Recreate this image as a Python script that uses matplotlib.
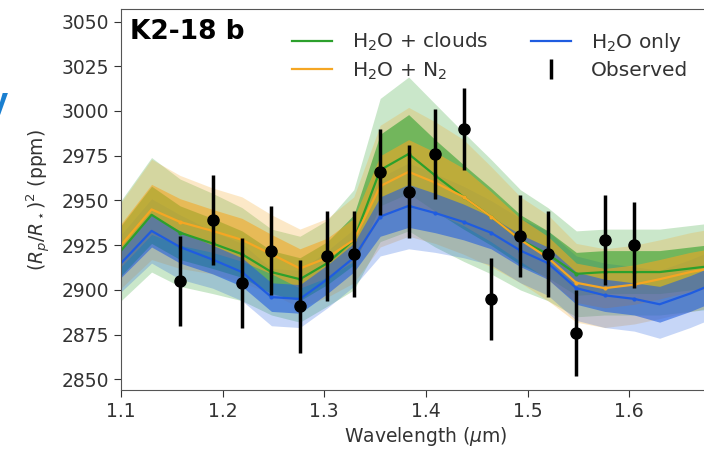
import numpy as np
import matplotlib
matplotlib.use("Agg")
import matplotlib.pyplot as plt

# model wavelength grid (um)
wl_model = [1.100, 1.130, 1.158, 1.190, 1.219, 1.248, 1.276, 1.303, 1.329, 1.355, 1.383,
            1.409, 1.437, 1.464, 1.493, 1.520, 1.548, 1.576, 1.605, 1.630, 1.660, 1.690]

# H2O + clouds
clouds_med = [2922, 2942, 2932, 2926, 2920, 2910, 2906, 2915, 2928, 2967, 2976,
              2964, 2952, 2941, 2928, 2920, 2909, 2910, 2910, 2910, 2912, 2914]
clouds_s1 = [14, 16, 15, 14, 13, 12, 12, 12, 14, 20, 22, 20, 18, 16, 14, 13, 12, 12, 12, 12, 12, 12]
clouds_s2 = [28, 32, 30, 28, 26, 24, 24, 24, 28, 40, 43, 40, 36, 32, 28, 26, 24, 24, 24, 24, 24, 24]

# H2O + N2
n2_med = [2925, 2945, 2938, 2933, 2928, 2920, 2912, 2918, 2928, 2958, 2966,
          2960, 2952, 2941, 2928, 2918, 2904, 2901, 2903, 2906, 2910, 2913]
n2_s1 = [12, 14, 13, 12, 12, 11, 11, 11, 12, 17, 18, 17, 16, 14, 12, 12, 11, 11, 11, 11, 11, 11]
n2_s2 = [24, 28, 26, 24, 24, 22, 22, 22, 24, 34, 36, 34, 32, 28, 24, 24, 22, 22, 22, 22, 22, 22]

# H2O only
h2o_med = [2915, 2933, 2924, 2917, 2910, 2896, 2895, 2906, 2918, 2941, 2947,
           2943, 2938, 2932, 2922, 2915, 2901, 2897, 2895, 2892, 2898, 2905]
h2o_s1 = [8, 9, 9, 8, 8, 8, 8, 8, 8, 11, 12, 11, 10, 9, 9, 9, 9, 9, 9, 10, 10, 10]
h2o_s2 = [16, 18, 18, 16, 16, 16, 16, 16, 16, 22, 24, 22, 20, 18, 18, 18, 18, 18, 18, 19, 19, 19]

# observed transit depths
wl_obs = [1.158, 1.190, 1.219, 1.248, 1.276, 1.303, 1.329, 1.355, 1.383,
          1.409, 1.437, 1.464, 1.493, 1.520, 1.548, 1.576, 1.605]
depth_obs = [2905, 2939, 2904, 2922, 2891, 2919, 2920, 2966, 2955,
             2976, 2990, 2895, 2930, 2920, 2876, 2928, 2925]
err_obs = [25, 25, 25, 25, 26, 25, 24, 24, 26, 25, 23, 23, 23, 24, 24, 25, 24]

wl_model = np.array(wl_model)
models = [
    (clouds_med, clouds_s1, clouds_s2, '#2ca02c', r'H$_2$O + clouds'),
    (n2_med, n2_s1, n2_s2, '#f5a623', r'H$_2$O + N$_2$'),
    (h2o_med, h2o_s1, h2o_s2, '#1f5ce0', r'H$_2$O only'),
]

fig = plt.figure(figsize=(7.04, 4.49), dpi=100)
ax = fig.add_axes([0.172, 0.131, 0.866, 0.849])

for med, s1, s2, col, lab in models:
    med = np.array(med); s2 = np.array(s2)
    ax.fill_between(wl_model, med - s2, med + s2, color=col, alpha=0.25, lw=0)
for med, s1, s2, col, lab in models:
    med = np.array(med); s1 = np.array(s1)
    ax.fill_between(wl_model, med - s1, med + s1, color=col, alpha=0.58, lw=0)

for med, s1, s2, col, lab in models:
    ax.plot(wl_model, med, color=col, lw=1.6, label=lab)
    on_obs = np.interp(wl_obs, wl_model, med)
    ax.plot(wl_obs, on_obs, 'o', color=col, ms=3, mec='none')

ax.errorbar(wl_obs, depth_obs, yerr=err_obs, fmt='none', ecolor='black',
            elinewidth=2.5, capsize=0, label='Observed', zorder=5)
ax.plot(wl_obs, depth_obs, 'o', color='black', ms=8, zorder=6)

ax.set_xlim(1.1, 1.7)
ax.set_ylim(2844, 3057)
ax.set_xticks([1.1, 1.2, 1.3, 1.4, 1.5, 1.6])
ax.set_yticks([2850, 2875, 2900, 2925, 2950, 2975, 3000, 3025, 3050])
ax.tick_params(labelsize=13.5, colors='#333333', length=5)
for s in ax.spines.values():
    s.set_color('#555555')
ax.set_xlabel(r'Wavelength ($\mu$m)', fontsize=13.5, color='#333333', labelpad=3)
ax.set_ylabel(r'$(R_p/R_\star)^2$ (ppm)', fontsize=13.5, color='#333333', labelpad=6)

ax.text(0.015, 0.975, 'K2-18 b', transform=ax.transAxes, va='top', ha='left',
        fontsize=19, fontweight='bold')

ax.legend(ncol=2, frameon=False, fontsize=14.5, loc='upper left',
          bbox_to_anchor=(0.25, 0.99), columnspacing=2.1, handlelength=2.0,
          handletextpad=1.0, labelspacing=0.35, labelcolor='#333333')

fig.text(-0.017, 0.77, 'y', fontsize=26, fontweight='bold', color='#1a7fd0',
         family='Liberation Sans', ha='left', va='center')

fig.savefig('out.png', dpi=100)
